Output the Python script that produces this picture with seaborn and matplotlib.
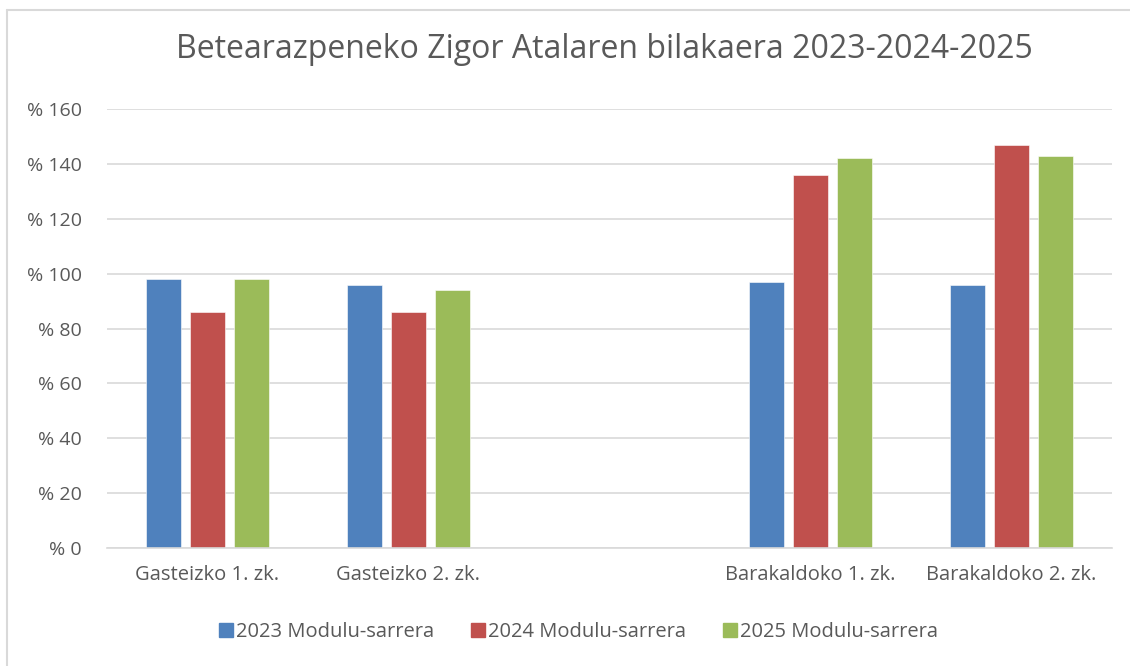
import pandas as pd
import matplotlib.pyplot as plt
import seaborn as sns
import numpy as np
from matplotlib.ticker import FuncFormatter
from matplotlib.lines import Line2D

# --- Data ---
categories = ["Gasteizko 1. zk.", "Gasteizko 2. zk.", " ", "Barakaldoko 1. zk.", "Barakaldoko 2. zk."]
series = ["2023 Modulu-sarrera", "2024 Modulu-sarrera", "2025 Modulu-sarrera"]
values_2023 = [98, 96, np.nan, 97, 96]
values_2024 = [86, 86, np.nan, 136, 147]
values_2025 = [98, 94, np.nan, 142, 143]
y_ticks = [0, 20, 40, 60, 80, 100, 120, 140, 160]
colors = ["#4F81BD", "#C0504D", "#9BBB59"]

TEXT = "#595959"
GRID = "#D9D9D9"

sns.set_theme(style="white")
plt.rcParams['font.family'] = ['Open Sans', 'DejaVu Sans']

df = pd.DataFrame({
    'category': categories * 3,
    'series': [series[0]] * 5 + [series[1]] * 5 + [series[2]] * 5,
    'value': values_2023 + values_2024 + values_2025,
})

fig = plt.figure(figsize=(11.3, 6.66), dpi=100)
ax = fig.add_axes([107 / 1130, 118 / 666, 1005 / 1130, 439 / 666])

sns.barplot(data=df, x='category', y='value', hue='series', order=categories,
            hue_order=series, palette=colors, width=0.66, gap=0.2,
            saturation=1, ax=ax, legend=False, edgecolor='white', linewidth=0.4)

ax.set_ylim(0, 160)
ax.set_yticks(y_ticks)
ax.yaxis.set_major_formatter(FuncFormatter(lambda v, p: f"% {v:.0f}"))
ax.yaxis.grid(True, color=GRID, linewidth=1.2)
ax.set_axisbelow(True)
for s in ['left', 'right', 'top']:
    ax.spines[s].set_visible(False)
ax.spines['bottom'].set_color(GRID)
ax.spines['bottom'].set_linewidth(1.2)
ax.tick_params(axis='both', length=0, colors=TEXT)
ax.tick_params(axis='x', pad=12, labelsize=14.5)
ax.tick_params(axis='y', pad=18, labelsize=14)
ax.set_xlabel('')
ax.set_ylabel('')

fig.text(604 / 1130, 1 - 50 / 666, "Betearazpeneko Zigor Atalaren bilakaera 2023-2024-2025",
         ha='center', va='center', fontsize=23, color=TEXT)

handles = [Line2D([0], [0], marker='s', linestyle='', markersize=10,
                  markerfacecolor=c, markeredgecolor=c) for c in colors]
fig.legend(handles, series, loc='center', bbox_to_anchor=(578 / 1130, 1 - 632 / 666),
           ncol=3, frameon=False, handletextpad=0.1, columnspacing=1.8,
           labelcolor=TEXT, handlelength=0.8, fontsize=14.5)

# chart-area border (left and top edges visible in the reference)
fig.add_artist(Line2D([7 / 1130, 7 / 1130], [0, 1 - 10 / 666], transform=fig.transFigure,
                      color=GRID, linewidth=1.5))
fig.add_artist(Line2D([7 / 1130, 1], [1 - 10 / 666, 1 - 10 / 666], transform=fig.transFigure,
                      color=GRID, linewidth=1.5))

fig.savefig('out.png', dpi=100)
